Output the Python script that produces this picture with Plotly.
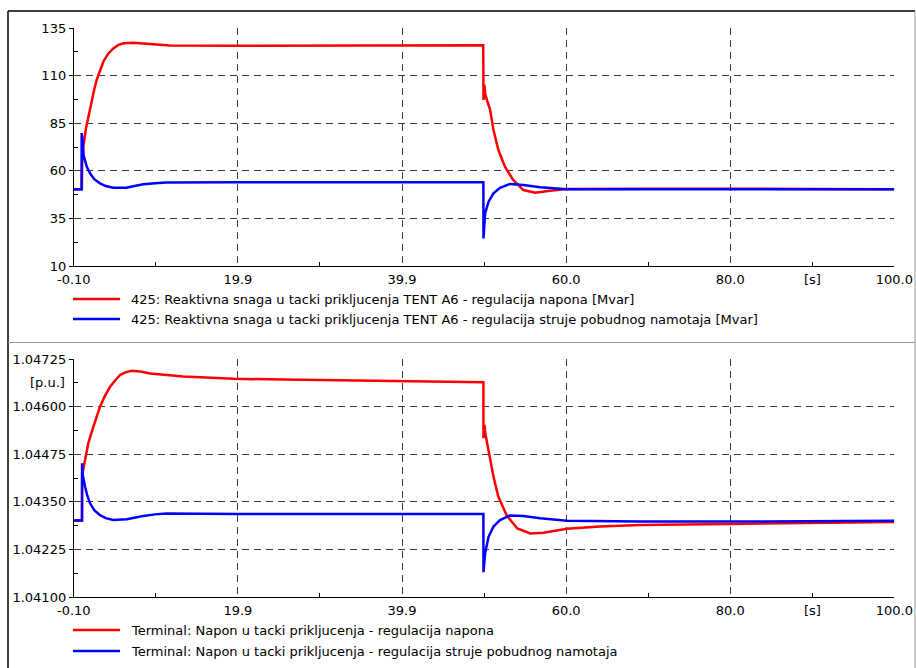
import plotly.graph_objects as go

# ---------------- data ----------------
# Top panel: reactive power [Mvar]
t_q_red = [-0.1, 0.88, 0.92, 1.06, 1.39, 1.67, 2.08, 2.4, 2.69, 3.1, 3.5, 4.1, 4.72, 5.3, 5.94,
           7.16, 8.4, 9.6, 11.6, 20, 30, 40, 49.85, 49.88, 50.0, 50.1, 50.7, 51.1, 51.7, 52.5,
           53.5, 54.75, 56.2, 58.0, 60.05, 70, 80, 90, 100]
q_red = [50.3, 50.3, 64, 72.7, 82.3, 88.4, 97.2, 102.8, 107.7, 113.0, 117.3, 121.5, 124.3, 126.0,
         127.0, 127.3, 126.9, 126.4, 125.8, 125.7, 125.7, 125.8, 126.0, 97.2, 105.1, 100.0, 91.9,
         81.4, 70.9, 62.2, 55.2, 49.9, 48.5, 49.5, 50.4, 50.6, 50.7, 50.5, 50.3]

t_q_blue = [-0.1, 0.85, 0.86, 0.95, 1.1, 1.27, 1.5, 1.88, 2.4, 3.1, 3.8, 4.72, 6.3, 7.3, 8.4, 9.8,
            11.2, 20, 30, 40, 49.87, 49.88, 50.08, 50.5, 51.1, 51.9, 53.1, 54.75, 56.8, 60.05,
            70, 80, 90, 100]
q_blue = [50.3, 50.3, 79.8, 77.0, 68.0, 65.7, 62.0, 58.7, 55.6, 53.4, 52.0, 51.1, 51.1, 52.0, 52.9,
          53.5, 53.8, 54.0, 54.0, 54.0, 54.0, 24.5, 37.7, 43.8, 48.2, 51.1, 53.1, 52.5, 51.3, 50.3,
          50.3, 50.3, 50.3, 50.3]

# Bottom panel: terminal voltage [p.u.]
t_u_red = [-0.1, 0.9, 0.92, 1.27, 1.67, 2.28, 2.7, 3.1, 3.7, 4.32, 5.0, 5.54, 6.2, 6.97, 8.0, 9.2,
           13.26, 19.4, 25.5, 35, 45, 49.87, 49.88, 50.0, 50.1, 50.7, 51.1, 51.7, 52.7, 54.0, 55.6,
           57.2, 60.05, 64.1, 69, 80, 90, 100]
u_red = [1.04301, 1.04301, 1.04420, 1.04460, 1.04504, 1.04547, 1.04575, 1.04600, 1.04628, 1.04652,
         1.04670, 1.04683, 1.04690, 1.04694, 1.04692, 1.04687, 1.04679, 1.04673, 1.04671, 1.04668,
         1.04665, 1.04664, 1.04517, 1.04552, 1.04530, 1.04460, 1.04416, 1.04363, 1.04315, 1.04280,
         1.04267, 1.04269, 1.04279, 1.04285, 1.04289, 1.04292, 1.04294, 1.04297]

t_u_blue = [-0.1, 0.9, 0.91, 1.0, 1.27, 1.55, 1.88, 2.4, 3.1, 3.8, 4.72, 6.35, 7.3, 8.4, 9.8, 11.2,
            20, 30, 40, 49.87, 49.88, 50.08, 50.5, 51.1, 51.9, 53.1, 54.75, 56.8, 60.05, 69, 80,
            90, 100]
u_blue = [1.04301, 1.04301, 1.04451, 1.04420, 1.04390, 1.04366, 1.04346, 1.04328, 1.04315, 1.04307,
          1.04302, 1.04304, 1.04308, 1.04313, 1.04317, 1.04319, 1.04318, 1.04318, 1.04318, 1.04318,
          1.04165, 1.04215, 1.04258, 1.04285, 1.04302, 1.04314, 1.04313, 1.04307, 1.04300, 1.04298,
          1.04298, 1.04299, 1.04300]

x_tickvals = [-0.1, 19.92, 39.94, 59.96, 79.98, 100.0]
x_ticktext = ["-0.10", "19.9", "39.9", "60.0", "80.0", "100.0"]
x_minor = [9.91, 29.93, 49.95, 69.97, 89.99]

q_ticks = [10, 35, 60, 85, 110, 135]
q_minor = [22.5, 47.5, 72.5, 97.5, 122.5]
u_ticks = [1.041, 1.04225, 1.0435, 1.04475, 1.046, 1.04725]
u_minor = [1.041625, 1.042875, 1.044125, 1.045375, 1.046625]

names_q = ["425: Reaktivna snaga u tacki prikljucenja TENT A6 - regulacija napona [Mvar]",
           "425: Reaktivna snaga u tacki prikljucenja TENT A6 - regulacija struje pobudnog namotaja [Mvar]"]
names_u = ["Terminal: Napon u tacki prikljucenja - regulacija napona",
           "Terminal: Napon u tacki prikljucenja - regulacija struje pobudnog namotaja"]

RED = "#FF0000"
BLUE = "#0000FF"
FONT = "DejaVu Sans, Liberation Sans, Arial, sans-serif"
FS = 13
W, H = 916, 668


def px(x):
    return x / W


def py(y):
    return 1 - y / H


fig = go.Figure()
fig.add_trace(go.Scatter(x=t_q_red, y=q_red, mode="lines", line=dict(color=RED, width=2.5),
                         name=names_q[0], xaxis="x", yaxis="y", showlegend=False))
fig.add_trace(go.Scatter(x=t_q_blue, y=q_blue, mode="lines", line=dict(color=BLUE, width=2.5),
                         name=names_q[1], xaxis="x", yaxis="y", showlegend=False))
fig.add_trace(go.Scatter(x=t_u_red, y=u_red, mode="lines", line=dict(color=RED, width=2.5),
                         name=names_u[0], xaxis="x2", yaxis="y2", showlegend=False))
fig.add_trace(go.Scatter(x=t_u_blue, y=u_blue, mode="lines", line=dict(color=BLUE, width=2.5),
                         name=names_u[1], xaxis="x2", yaxis="y2", showlegend=False))

xdom = [px(73.8), px(894.3)]
grid = dict(showgrid=True, gridcolor="#3a3a3a", gridwidth=1, griddash="7px,5px",
            showline=True, linecolor="black", linewidth=1, zeroline=False, automargin=False,
            tickfont=dict(family=FONT, size=FS, color="black"))

xa = dict(grid, range=[-0.1, 100.0], tickmode="array", tickvals=x_tickvals, ticktext=x_ticktext,
          ticks="", domain=xdom, ticklabelstandoff=1,
          minor=dict(tickmode="array", tickvals=x_minor, ticks="inside", ticklen=4,
                     tickcolor="black", showgrid=False))
fig.update_layout(
    xaxis=dict(xa, anchor="y"),
    xaxis2=dict(xa, anchor="y2"),
    yaxis=dict(grid, range=[10, 135], tickmode="array", tickvals=q_ticks,
               ticks="outside", ticklen=4, tickcolor="black",
               domain=[py(266), py(28)], anchor="x",
               minor=dict(tickmode="array", tickvals=q_minor, ticks="inside", ticklen=4,
                          tickcolor="black", showgrid=False)),
    yaxis2=dict(grid, range=[1.041, 1.04725], tickmode="array", tickvals=u_ticks,
                tickformat=".5f", ticks="outside", ticklen=4, tickcolor="black",
                domain=[py(597), py(359)], anchor="x2",
                minor=dict(tickmode="array", tickvals=u_minor, ticks="inside", ticklen=4,
                           tickcolor="black", showgrid=False)),
    width=W, height=H, margin=dict(l=0, r=0, t=0, b=0, autoexpand=False),
    paper_bgcolor="white", plot_bgcolor="white", showlegend=False,
)

shapes = [
    dict(type="line", xref="paper", yref="paper", x0=px(8), x1=px(8), y0=py(11), y1=0,
         line=dict(color="black", width=1.5)),
    dict(type="line", xref="paper", yref="paper", x0=px(8), x1=px(915), y0=py(11), y1=py(11),
         line=dict(color="black", width=1.5)),
    dict(type="line", xref="paper", yref="paper", x0=px(915), x1=px(915), y0=py(11), y1=0,
         line=dict(color="#999999", width=1)),
    dict(type="line", xref="paper", yref="paper", x0=px(8), x1=px(915), y0=py(342.5), y1=py(342.5),
         line=dict(color="#999999", width=1)),
]
annotations = []
legend_rows = [(299, RED, names_q[0]), (319, BLUE, names_q[1]),
               (630, RED, names_u[0]), (651, BLUE, names_u[1])]
for ypix, col, txt in legend_rows:
    shapes.append(dict(type="line", xref="paper", yref="paper", x0=px(73), x1=px(120),
                       y0=py(ypix), y1=py(ypix), line=dict(color=col, width=2.5)))
    annotations.append(dict(xref="paper", yref="paper", x=px(129), y=py(ypix), text=txt,
                            showarrow=False, xanchor="left", yanchor="middle",
                            font=dict(family=FONT, size=FS, color="black")))

annotations.append(dict(xref="x", yref="paper", x=89.99, y=py(279), text="[s]", showarrow=False,
                        xanchor="center", yanchor="middle",
                        font=dict(family=FONT, size=FS, color="black")))
annotations.append(dict(xref="x2", yref="paper", x=89.99, y=py(610), text="[s]", showarrow=False,
                        xanchor="center", yanchor="middle",
                        font=dict(family=FONT, size=FS, color="black")))
annotations.append(dict(xref="paper", yref="y2", x=px(67), y=1.046625, text="[p.u.]",
                        showarrow=False, xanchor="right", yanchor="middle",
                        font=dict(family=FONT, size=FS, color="black")))

fig.update_layout(shapes=shapes, annotations=annotations)
fig.write_html("out.html")
